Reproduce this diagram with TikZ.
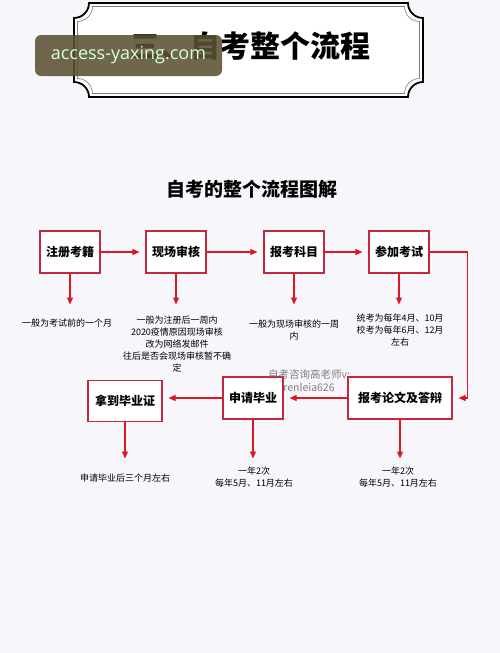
\documentclass[tikz,border=0pt]{standalone}
\usepackage{fontspec}
\newfontfamily\cjk{Noto Sans CJK SC}
\newfontfamily\wmfont{Open Sans}
\usetikzlibrary{arrows.meta}

\definecolor{boxred}{RGB}{196,40,60}
\definecolor{arrred}{RGB}{222,22,36}
\definecolor{bgpaper}{RGB}{247,246,250}
\definecolor{markbox}{RGB}{92,82,52}
\definecolor{markgray}{RGB}{115,115,115}

\tikzset{
    stepbox/.style={draw=boxred, line width=1.1pt, fill=white, minimum width=60pt, minimum height=42pt,
        inner sep=0pt, font=\cjk\bfseries\fontsize{12}{14}\selectfont},
    note/.style={anchor=north, align=center, inner sep=0pt, font=\cjk\fontsize{9}{12}\selectfont},
    flow/.style={draw=arrred, line width=1.1pt, -{Triangle[length=7pt,width=6pt]}, shorten >=6pt},
}

\begin{document}
\begin{tikzpicture}[x=1pt, y=-1pt]
        \useasboundingbox (0,0) rectangle (500,653);
        \fill[bgpaper] (0,0) rectangle (500,653);

        % title frame with cut corners
        \foreach \d/\c/\w in {0/black/1.8pt, 3.5/gray/0.6pt}{
            \pgfmathsetmacro\L{74+\d} \pgfmathsetmacro\R{423-\d}
            \pgfmathsetmacro\T{3+\d} \pgfmathsetmacro\B{97-\d}
            \def\r{15} \def\k{8.3}
            \path[draw=\c, line width=\w, fill=white]
                (\L+\r,\T) -- (\R-\r,\T) .. controls (\R-\r,\T+\k) and (\R-\k,\T+\r) .. (\R,\T+\r)
                -- (\R,\B-\r) .. controls (\R-\k,\B-\r) and (\R-\r,\B-\k) .. (\R-\r,\B)
                -- (\L+\r,\B) .. controls (\L+\r,\B-\k) and (\L+\k,\B-\r) .. (\L,\B-\r)
                -- (\L,\T+\r) .. controls (\L+\k,\T+\r) and (\L+\r,\T+\k) .. (\L+\r,\T) -- cycle;
        }
        \node[font=\cjk\bfseries\fontsize{30}{32}\selectfont] (title) at (250,46) {三、自考整个流程};
        \node[fill=markbox, fill opacity=0.88, text opacity=1, rounded corners=6pt, minimum width=187pt,
            minimum height=41pt, text=white!85!green, font=\wmfont\fontsize{18}{20}\selectfont] (mark) at (128.5,55.5) {access-yaxing.com};

        \node[font=\cjk\bfseries\fontsize{19}{21}\selectfont] (head) at (252,189) {自考的整个流程图解};

        % first row
        \foreach \i/\x/\t in {1/70/注册考籍, 2/176/现场审核, 3/294/报考科目, 4/399/参加考试}{
            \node[stepbox] (s\i) at (\x,252) {\t};
        }
        % second row
        \node[stepbox, minimum width=104pt] (s5) at (400,398) {报考论文及答辩};
        \node[stepbox] (s6) at (253,398) {申请毕业};
        \node[stepbox, minimum width=74pt, minimum height=41pt] (s7) at (125,401) {拿到毕业证};

        % notes
        \node[note] (n1) at (67,318.5) {一般为考试前的一个月};
        \node[note] (n2) at (177,315.5) {一般为注册后一周内\\2020疫情原因现场审核\\改为网络发邮件\\往后是否会现场审核暂不确\\定};
        \node[note] (n3) at (294,319.5) {一般为现场审核的一周\\内};
        \node[note] (n4) at (400,313.5) {统考为每年4月、10月\\校考为每年6月、12月\\左右};
        \node[note] (n5) at (398,466.5) {一年2次\\每年5月、11月左右};
        \node[note] (n6) at (254,466.5) {一年2次\\每年5月、11月左右};
        \node[note] (n7) at (125,473.5) {申请毕业后三个月左右};

        \node[align=center, text=markgray, text opacity=0.9, inner sep=0pt,
            font=\cjk\fontsize{10.5}{13}\selectfont] (wx) at (309,381) {自考咨询高老师v:\\renleia626};

        % connectors
        \draw[flow] (s1) -- (s2);
        \draw[flow] (s2) -- (s3);
        \draw[flow] (s3) -- (s4);
        \draw[flow] (s4.east) -- ++(38,0) |- (s5.east);
        \draw[flow] (s5) -- (s6);
        \draw[flow] (s6.west) -- (s6.west -| s7.east);
        \foreach \i/\g in {1/14, 2/11, 3/15, 4/9, 5/8, 6/8, 7/15}{
            \draw[flow, shorten >=\g pt] (s\i.south) -- (s\i.south |- n\i.north);
        }
    \end{tikzpicture}
\end{document}
